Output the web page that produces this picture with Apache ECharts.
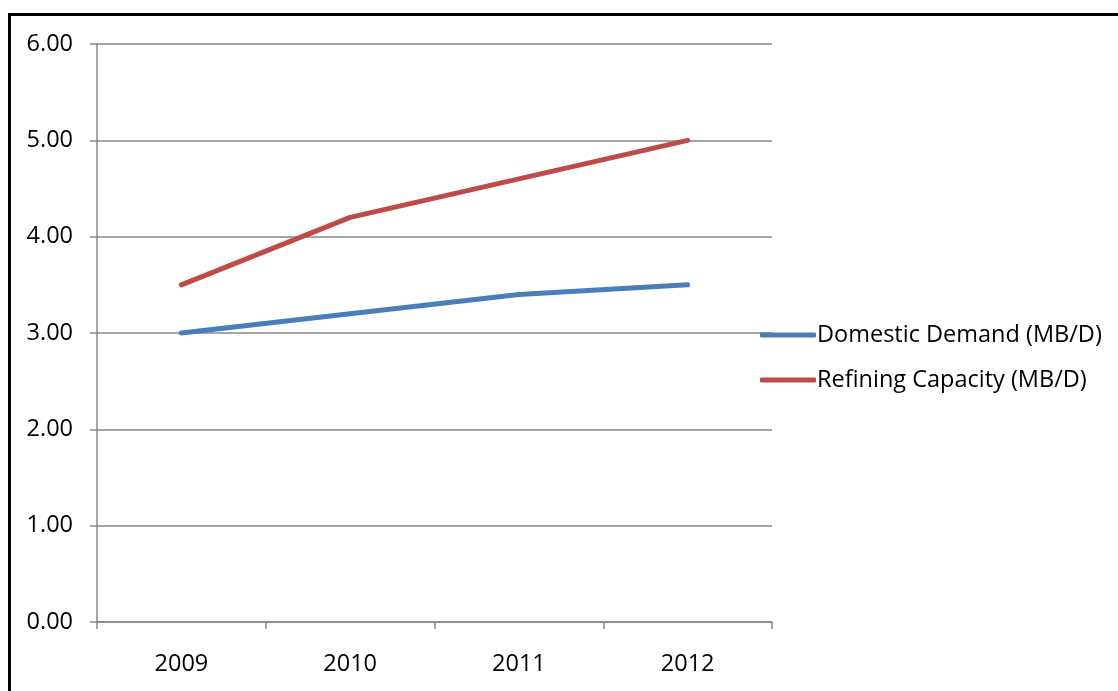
<!DOCTYPE html>
<html>
<head>
<meta charset="utf-8">
<script src="https://cdn.jsdelivr.net/npm/echarts@6/dist/echarts.min.js"></script>
<style>
html,body{margin:0;padding:0;background:#fff;}
#frame{position:absolute;left:8px;top:13px;width:1110px;height:678px;border-top:3px solid #000;border-left:3px solid #000;box-sizing:border-box;}
#chart{position:absolute;left:0;top:0;width:1118px;height:691px;}
</style>
</head>
<body>
<div id="frame"></div>
<div id="chart"></div>
<script>
const categories = ['2009', '2010', '2011', '2012'];
const domesticDemand = [3.00, 3.20, 3.40, 3.50];
const refiningCapacity = [3.50, 4.20, 4.60, 5.00];
const seriesNames = ['Domestic Demand (MB/D)', 'Refining Capacity (MB/D)'];

const FONT = '"Open Sans", "Liberation Sans", sans-serif';
const axisGray = '#878787';

const chart = echarts.init(document.getElementById('chart'), null, {renderer: 'canvas'});
chart.setOption({
  animation: false,
  backgroundColor: 'transparent',
  textStyle: {fontFamily: FONT},
  grid: {left: 97, right: 346, top: 44, bottom: 69, containLabel: false},
  legend: {
    orient: 'vertical',
    left: 755,
    top: 318,
    icon: 'roundRect',
    itemWidth: 56,
    itemHeight: 5,
    itemGap: 21,
    textStyle: {fontFamily: FONT, fontSize: 23.5, color: '#000', padding: [0,0,0,-4]},
    data: seriesNames
  },
  xAxis: {
    type: 'category',
    data: categories,
    boundaryGap: true,
    axisLine: {lineStyle: {color: axisGray, width: 1.5}},
    axisTick: {show: true, length: 7, lineStyle: {color: axisGray, width: 1.5}},
    axisLabel: {fontFamily: FONT, fontSize: 23.5, color: '#000', margin: 30},
    splitLine: {show: false}
  },
  yAxis: {
    type: 'value',
    min: 0, max: 6, interval: 1,
    axisLine: {show: true, lineStyle: {color: axisGray, width: 1.5}},
    axisTick: {show: true, length: 7, lineStyle: {color: axisGray, width: 1.5}},
    axisLabel: {fontFamily: FONT, fontSize: 23.5, color: '#000', margin: 24,
      formatter: v => v.toFixed(2)},
    splitLine: {show: true, lineStyle: {color: axisGray, width: 1.5}}
  },
  series: [
    {name: seriesNames[0], type: 'line', data: domesticDemand, symbol: 'none',
     lineStyle: {color: '#4A7EBB', width: 5, cap: 'round', join: 'round'}, itemStyle: {color: '#4A7EBB'}},
    {name: seriesNames[1], type: 'line', data: refiningCapacity, symbol: 'none',
     lineStyle: {color: '#BE4B48', width: 5, cap: 'round', join: 'round'}, itemStyle: {color: '#BE4B48'}}
  ]
});
</script>
</body>
</html>
